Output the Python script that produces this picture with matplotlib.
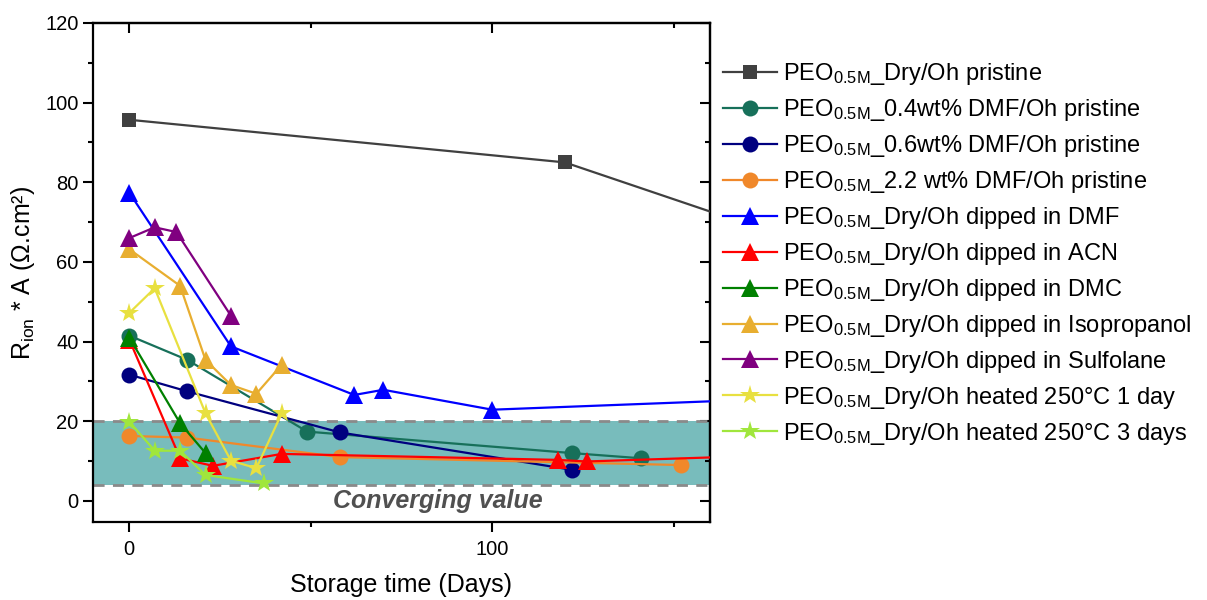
import matplotlib
matplotlib.use("Agg")
import matplotlib.pyplot as plt
from matplotlib.ticker import MultipleLocator, NullFormatter

plt.rcParams['font.family'] = ['Liberation Sans', 'DejaVu Sans']
plt.rcParams['mathtext.fontset'] = 'custom'
plt.rcParams['mathtext.rm'] = 'Liberation Sans'
plt.rcParams['mathtext.it'] = 'Liberation Sans:italic'
plt.rcParams['mathtext.bf'] = 'Liberation Sans:bold'

# ---- data ----
dry_x = [0, 120, 180]
dry_y = [95.7, 85.0, 66.5]

dmf04_x = [0, 16, 49, 122, 141]
dmf04_y = [41.5, 35.4, 17.4, 12.0, 10.7]

dmf06_x = [0, 16, 58, 122]
dmf06_y = [31.7, 27.5, 17.2, 7.8]

dmf22_x = [0, 16, 58, 152]
dmf22_y = [16.3, 15.9, 11.0, 9.0]

dipDMF_x = [0, 28, 62, 70, 100, 200]
dipDMF_y = [77.4, 38.8, 26.6, 27.9, 22.9, 26.4]

dipACN_x = [0, 14, 23, 42, 118, 126, 180]
dipACN_y = [40.5, 10.7, 8.8, 11.8, 10.3, 9.9, 11.5]

dipDMC_x = [0, 14, 21]
dipDMC_y = [41.0, 19.5, 12.0]

dipIso_x = [0, 14, 21, 28, 35, 42]
dipIso_y = [63.2, 54.0, 35.4, 29.1, 26.9, 34.2]

dipSulf_x = [0, 7, 13, 28]
dipSulf_y = [66.0, 68.7, 67.5, 46.5]

heat1_x = [0, 7, 21, 28, 35, 42]
heat1_y = [47.2, 53.4, 22.0, 10.1, 8.2, 22.0]

heat3_x = [0, 7, 14, 21, 37]
heat3_y = [19.9, 12.6, 12.6, 6.5, 4.4]

sub = r"PEO$_{\mathrm{0.5M}}$_"
labels = [
    sub + "Dry/Oh pristine",
    sub + "0.4wt% DMF/Oh pristine",
    sub + "0.6wt% DMF/Oh pristine",
    sub + "2.2 wt% DMF/Oh pristine",
    sub + "Dry/Oh dipped in DMF",
    sub + "Dry/Oh dipped in ACN",
    sub + "Dry/Oh dipped in DMC",
    sub + "Dry/Oh dipped in Isopropanol",
    sub + "Dry/Oh dipped in Sulfolane",
    sub + "Dry/Oh heated 250°C 1 day",
    sub + "Dry/Oh heated 250°C 3 days",
]

series = [
    (dry_x, dry_y, '#404040', 's', 10.5),
    (dmf04_x, dmf04_y, '#17705a', 'o', 11.5),
    (dmf06_x, dmf06_y, '#00007f', 'o', 11.5),
    (dmf22_x, dmf22_y, '#f0882a', 'o', 11.5),
    (dipDMF_x, dipDMF_y, '#0000ff', '^', 12.5),
    (dipACN_x, dipACN_y, '#ff0000', '^', 12.5),
    (dipDMC_x, dipDMC_y, '#008000', '^', 12.5),
    (dipIso_x, dipIso_y, '#e8ae30', '^', 12.5),
    (dipSulf_x, dipSulf_y, '#800080', '^', 12.5),
    (heat1_x, heat1_y, '#e8e040', '*', 15),
    (heat3_x, heat3_y, '#a0e63c', '*', 15),
]

fig = plt.figure(figsize=(12.07, 6.0), dpi=100)
ax = fig.add_axes([93/1207, 78/600, (710-93)/1207, (522-23)/600])

ax.axhspan(4, 20, facecolor='#78bcbc', edgecolor='none', zorder=0)
for yy in (4, 20):
    ax.axhline(yy, color='#8a8a8a', lw=2, ls=(0, (4, 3)), zorder=1)

for (x, y, c, m, ms), lab in zip(series, labels):
    ax.plot(x, y, color=c, marker=m, ms=ms, lw=1.6, label=lab, zorder=3,
            markeredgewidth=0)

ax.text(85, 0, "Converging value", fontsize=18, fontweight='bold',
        fontstyle='italic', color='#505050', ha='center', va='center', zorder=4)

ax.set_xlim(-10, 160)
ax.set_ylim(-5.3, 120)
ax.xaxis.set_major_locator(MultipleLocator(100))
ax.xaxis.set_minor_locator(MultipleLocator(50))
ax.yaxis.set_major_locator(MultipleLocator(20))
ax.yaxis.set_minor_locator(MultipleLocator(10))

for s in ax.spines.values():
    s.set_linewidth(1.6)

ax.tick_params(axis='both', which='major', length=7, width=1.5, labelsize=14.5,
               direction='out', top=False, right=False)
ax.tick_params(axis='both', which='minor', length=3.5, width=1.5,
               direction='out', top=False, right=False)
ax.tick_params(axis='x', which='both', pad=6)

# inward ticks on top and right
secx = ax.secondary_xaxis('top')
secx.xaxis.set_major_locator(MultipleLocator(100))
secx.xaxis.set_minor_locator(MultipleLocator(50))
secx.xaxis.set_major_formatter(NullFormatter())
secx.tick_params(which='major', direction='in', length=7, width=1.5)
secx.tick_params(which='minor', direction='in', length=3.5, width=1.5)
secx.spines['top'].set_linewidth(1.6)

secy = ax.secondary_yaxis('right')
secy.yaxis.set_major_locator(MultipleLocator(20))
secy.yaxis.set_minor_locator(MultipleLocator(10))
secy.yaxis.set_major_formatter(NullFormatter())
secy.tick_params(which='major', direction='in', length=7, width=1.5)
secy.tick_params(which='minor', direction='in', length=3.5, width=1.5)
secy.spines['right'].set_linewidth(1.6)

ax.set_xlabel("Storage time (Days)", fontsize=18, labelpad=10)
ax.set_ylabel(r"R$_{\mathrm{ion}}$ * A (Ω.cm²)", fontsize=18)
ax.yaxis.set_label_coords(-(93 - 37) / 617, 0.5)

leg = ax.legend(loc='upper left', bbox_to_anchor=(1.005, 0.942), frameon=False,
                fontsize=17, handlelength=2.3, handletextpad=0.25,
                labelspacing=0.42, borderaxespad=0)

fig.savefig("out.png", dpi=100)
